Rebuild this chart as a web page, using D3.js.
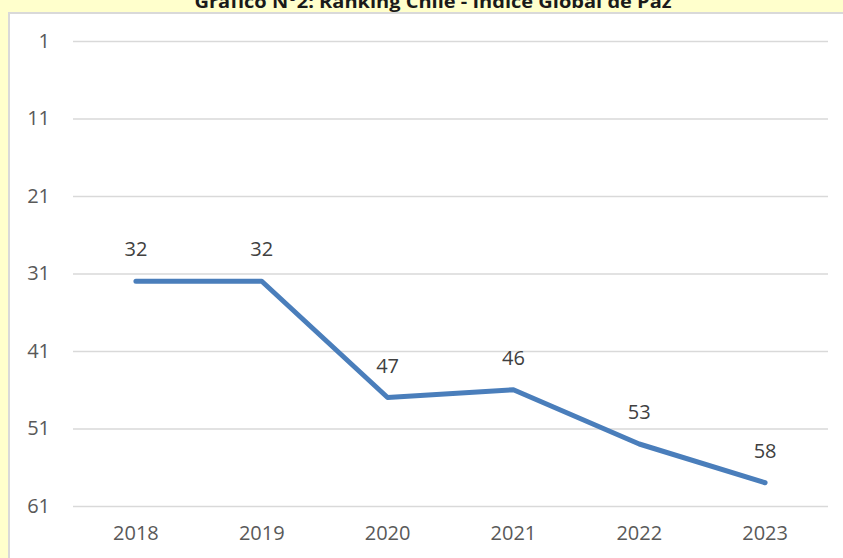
<!DOCTYPE html>
<html><head><meta charset="utf-8">
<script src="https://cdn.jsdelivr.net/npm/d3@7"></script>
<style>html,body{margin:0;padding:0;background:#FFFFCC;}svg{display:block;}</style>
</head><body>
<script>
const years = ["2018","2019","2020","2021","2022","2023"];
const ranking = [32, 32, 47, 46, 53, 58];
const yTicks = [1, 11, 21, 31, 41, 51, 61];
const title = "Gráfico N°2: Ranking Chile - Índice Global de Paz";

const W = 843, H = 558;
const svg = d3.select("body").append("svg").attr("width", W).attr("height", H);
svg.append("rect").attr("width", W).attr("height", H).attr("fill", "#FFFFCC");
svg.append("rect").attr("x", 9).attr("y", 13).attr("width", W).attr("height", H)
  .attr("fill", "#fff").attr("stroke", "#d9d9d9").attr("stroke-width", 2);

svg.append("text").attr("x", 433).attr("y", 8).attr("text-anchor", "middle")
  .attr("font-family", "Open Sans, sans-serif").attr("font-weight", "bold")
  .attr("font-size", 18).attr("fill", "#1a1a1a")
  .attr("textLength", 477).attr("lengthAdjust", "spacingAndGlyphs")
  .text(title);

const x = d3.scaleBand().domain(years).range([73, 828]);
const y = d3.scaleLinear().domain([1, 61]).range([41, 506]);
const font = "Open Sans, sans-serif";

const yAxis = svg.append("g").attr("transform", "translate(73,0)")
  .call(d3.axisLeft(y).tickValues(yTicks).tickSize(-755).tickPadding(23));
yAxis.select(".domain").remove();
yAxis.selectAll(".tick line").attr("stroke", "#d9d9d9").attr("stroke-width", 1.5);
yAxis.selectAll(".tick text").attr("font-family", font).attr("font-size", 20).attr("fill", "#595959");

const xAxis = svg.append("g").attr("transform", "translate(0,506)")
  .call(d3.axisBottom(x).tickSize(0).tickPadding(20));
xAxis.select(".domain").remove();
xAxis.selectAll(".tick text").attr("font-family", font).attr("font-size", 20).attr("fill", "#595959");

const cx = d => x(d) + x.bandwidth() / 2;
const line = d3.line().x((d, i) => cx(years[i])).y(d => y(d));
svg.append("path").datum(ranking).attr("d", line).attr("fill", "none")
  .attr("stroke", "#4A7EBB").attr("stroke-width", 5)
  .attr("stroke-linejoin", "round").attr("stroke-linecap", "round");

svg.append("g").selectAll("text").data(ranking).join("text")
  .attr("x", (d, i) => cx(years[i])).attr("y", d => y(d) - 32)
  .attr("dy", "0.35em").attr("text-anchor", "middle")
  .attr("font-family", font).attr("font-size", 20).attr("fill", "#404040")
  .text(d => d);
</script>
</body></html>
